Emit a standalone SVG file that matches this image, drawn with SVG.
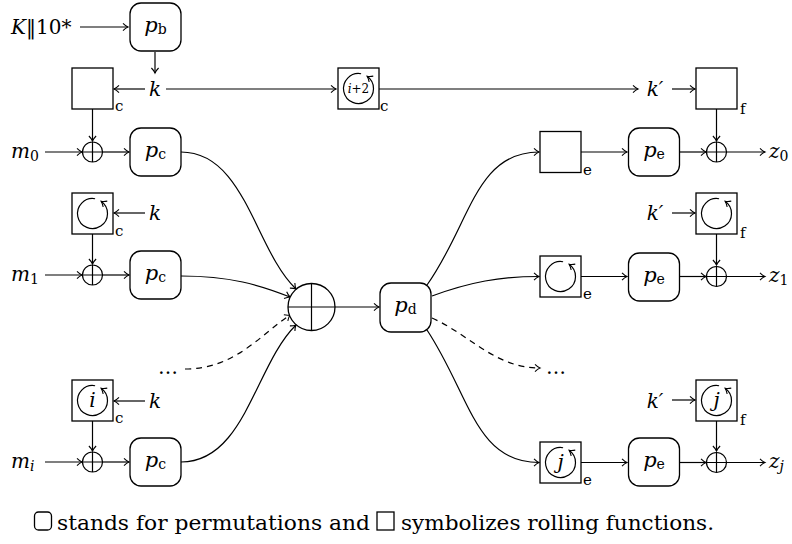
<svg xmlns="http://www.w3.org/2000/svg" width="792" height="544" viewBox="0 0 792 544">
<defs>
<marker id="ah" markerUnits="userSpaceOnUse" markerWidth="10" markerHeight="10" viewBox="-6 -5 8 10" refX="0" refY="0" orient="auto" overflow="visible">
<path d="M-5,-3.6 C-3,-1.6 -1.2,-0.5 0,0 C-1.2,0.5 -3,1.6 -5,3.6" fill="none" stroke="#000" stroke-width="1.1"/>
</marker>
<g id="xor" fill="#fff" stroke="#000" stroke-width="1.2"><circle r="10"/><path d="M-10,0H10M0,-10V10" fill="none"/></g>
<path id="roll" d="M2.6,-14.77 A15,15 0 1 0 8.6,-12.29" fill="none" stroke="#000" stroke-width="1.2" marker-end="url(#ah)"/>
<rect id="sq" width="41" height="41" fill="#fff" stroke="#000" stroke-width="1.3"/>
<rect id="pm" width="51" height="48" rx="11" fill="#fff" stroke="#000" stroke-width="1.3"/>
</defs>

<g id="connectors" fill="none" stroke="#000" stroke-width="1.2" marker-end="url(#ah)">
<path d="M80,27H128"/>
<path d="M155,52V73"/>
<path d="M145,89H114"/>
<path d="M166,89H336"/>
<path d="M379,89H638"/>
<path d="M672,89H695"/>
<path d="M716.5,109V141"/>
<path d="M716.5,234V265"/>
<path d="M716.5,421V451"/>
<path d="M672,213H695"/>
<path d="M672,400H695"/>
<path d="M92.5,109V141"/>
<path d="M92.5,234V264"/>
<path d="M92.5,421V451"/>
<path d="M145,213H114"/>
<path d="M145,401H114"/>
<path d="M45,152H82"/>
<path d="M45,275H82"/>
<path d="M45,462H82"/>
<path d="M103,152H129"/>
<path d="M103,275H129"/>
<path d="M103,462H129"/>
<path d="M181,152 C245,152 255,250 296,289"/>
<path d="M181,276 C230,276 260,285 290,297"/>
<path stroke-dasharray="6 5" d="M185,369 C235,369 260,335 290,315"/>
<path d="M181,462 C245,462 255,365 296,325"/>
<path d="M335,307H379"/>
<path d="M427,285 C470,225 475,152 539,152"/>
<path d="M432,296 C470,282 500,276.5 539,276.5"/>
<path stroke-dasharray="6 5" d="M432,318 C470,335 495,368 540,368"/>
<path d="M427,330 C470,395 475,462.5 539,462.5"/>
<path d="M581,152H627"/>
<path d="M581,276.5H627"/>
<path d="M581,462.5H627"/>
<path d="M680,152H706"/>
<path d="M680,276.5H706"/>
<path d="M680,462.5H706"/>
<path d="M727,152H765"/>
<path d="M727,276.5H765"/>
<path d="M727,462.5H765"/>
</g>

<g id="input-K"><text x="11" y="34" font-family="DejaVu Serif, serif" font-size="20"><tspan font-style="italic">K</tspan>‖10*</text></g>
<g id="pb"><use href="#pm" x="130" y="3"/><text x="155.5" y="32" text-anchor="middle" font-family="DejaVu Serif, serif" font-size="21"><tspan font-style="italic">p</tspan><tspan font-size="14" dy="2">b</tspan></text></g>
<g id="k-top"><text x="155" y="96" text-anchor="middle" font-family="DejaVu Serif, serif" font-size="20" font-style="italic">k</text></g>
<g id="c-top"><use href="#sq" x="72" y="68"/><text x="115" y="111" font-family="DejaVu Serif, serif" font-size="15">c</text></g>
<g id="c-mid"><use href="#sq" x="338" y="68"/><use href="#roll" x="358.5" y="88.5"/><text x="358.5" y="93" text-anchor="middle" font-family="DejaVu Serif, serif" font-size="12"><tspan font-style="italic">i</tspan>+2</text><text x="380" y="111" font-family="DejaVu Serif, serif" font-size="15">c</text></g>
<g id="kp-top"><text x="655" y="96" text-anchor="middle" font-family="DejaVu Serif, serif" font-size="20" font-style="italic">k′</text></g>
<g id="f-top"><use href="#sq" x="696" y="68"/><text x="740" y="114" font-family="DejaVu Serif, serif" font-size="15">f</text></g>

<g id="m0"><text x="11" y="158" font-family="DejaVu Serif, serif" font-size="20"><tspan font-style="italic">m</tspan><tspan font-size="14" dy="3">0</tspan></text></g>
<g id="xor0"><use href="#xor" x="92.5" y="152"/></g>
<g id="pc0"><use href="#pm" x="130" y="128"/><text x="155.5" y="157" text-anchor="middle" font-family="DejaVu Serif, serif" font-size="21"><tspan font-style="italic">p</tspan><tspan font-size="14" dy="2">c</tspan></text></g>

<g id="c1"><use href="#sq" x="72" y="193"/><use href="#roll" x="92.5" y="213.5"/><text x="115" y="236" font-family="DejaVu Serif, serif" font-size="15">c</text></g>
<g id="k1"><text x="155" y="220" text-anchor="middle" font-family="DejaVu Serif, serif" font-size="20" font-style="italic">k</text></g>
<g id="m1"><text x="11" y="281" font-family="DejaVu Serif, serif" font-size="20"><tspan font-style="italic">m</tspan><tspan font-size="14" dy="3">1</tspan></text></g>
<g id="xor1"><use href="#xor" x="92.5" y="275"/></g>
<g id="pc1"><use href="#pm" x="130" y="251"/><text x="155.5" y="280" text-anchor="middle" font-family="DejaVu Serif, serif" font-size="21"><tspan font-style="italic">p</tspan><tspan font-size="14" dy="2">c</tspan></text></g>

<g id="dots-left"><text x="158" y="374" font-family="DejaVu Serif, serif" font-size="20">…</text></g>

<g id="ci"><use href="#sq" x="72" y="380"/><use href="#roll" x="92.5" y="400.5"/><text x="92.5" y="407" text-anchor="middle" font-family="DejaVu Serif, serif" font-size="20" font-style="italic">i</text><text x="115" y="423" font-family="DejaVu Serif, serif" font-size="15">c</text></g>
<g id="ki"><text x="155" y="408" text-anchor="middle" font-family="DejaVu Serif, serif" font-size="20" font-style="italic">k</text></g>
<g id="mi"><text x="11" y="468" font-family="DejaVu Serif, serif" font-size="20"><tspan font-style="italic">m</tspan><tspan font-size="14" font-style="italic" dy="3">i</tspan></text></g>
<g id="xori"><use href="#xor" x="92.5" y="462"/></g>
<g id="pci"><use href="#pm" x="130" y="438"/><text x="155.5" y="467" text-anchor="middle" font-family="DejaVu Serif, serif" font-size="21"><tspan font-style="italic">p</tspan><tspan font-size="14" dy="2">c</tspan></text></g>

<g id="xor-center"><circle cx="311.5" cy="307" r="23.5" fill="#fff" stroke="#000" stroke-width="1.3"/><path d="M288,307H335M311.5,283.5V330.5" fill="none" stroke="#000" stroke-width="1.2"/></g>
<g id="pd"><rect x="380" y="283" width="51" height="49" rx="11" fill="#fff" stroke="#000" stroke-width="1.3"/><text x="405.5" y="312" text-anchor="middle" font-family="DejaVu Serif, serif" font-size="21"><tspan font-style="italic">p</tspan><tspan font-size="14" dy="2">d</tspan></text></g>

<g id="e0"><use href="#sq" x="540" y="131.5"/><text x="583" y="175" font-family="DejaVu Serif, serif" font-size="15">e</text></g>
<g id="pe0"><use href="#pm" x="628.5" y="128"/><text x="654" y="157" text-anchor="middle" font-family="DejaVu Serif, serif" font-size="21"><tspan font-style="italic">p</tspan><tspan font-size="14" dy="2">e</tspan></text></g>
<g id="xorr0"><use href="#xor" x="716.5" y="152"/></g>
<g id="z0"><text x="769" y="158" font-family="DejaVu Serif, serif" font-size="20"><tspan font-style="italic">z</tspan><tspan font-size="14" dy="3">0</tspan></text></g>

<g id="kp1"><text x="655" y="220" text-anchor="middle" font-family="DejaVu Serif, serif" font-size="20" font-style="italic">k′</text></g>
<g id="f1"><use href="#sq" x="696" y="193"/><use href="#roll" x="716.5" y="213.5"/><text x="740" y="238" font-family="DejaVu Serif, serif" font-size="15">f</text></g>
<g id="e1"><use href="#sq" x="540" y="256"/><use href="#roll" x="560.5" y="276.5"/><text x="583" y="299" font-family="DejaVu Serif, serif" font-size="15">e</text></g>
<g id="pe1"><use href="#pm" x="628.5" y="253"/><text x="654" y="282" text-anchor="middle" font-family="DejaVu Serif, serif" font-size="21"><tspan font-style="italic">p</tspan><tspan font-size="14" dy="2">e</tspan></text></g>
<g id="xorr1"><use href="#xor" x="716.5" y="276.5"/></g>
<g id="z1"><text x="769" y="282" font-family="DejaVu Serif, serif" font-size="20"><tspan font-style="italic">z</tspan><tspan font-size="14" dy="3">1</tspan></text></g>

<g id="dots-right"><text x="546" y="374" font-family="DejaVu Serif, serif" font-size="20">…</text></g>

<g id="kpj"><text x="655" y="408" text-anchor="middle" font-family="DejaVu Serif, serif" font-size="20" font-style="italic">k′</text></g>
<g id="fj"><use href="#sq" x="696" y="380"/><use href="#roll" x="716.5" y="400.5"/><text x="716.5" y="407" text-anchor="middle" font-family="DejaVu Serif, serif" font-size="20" font-style="italic">j</text><text x="740" y="425" font-family="DejaVu Serif, serif" font-size="15">f</text></g>
<g id="ej"><use href="#sq" x="540" y="442"/><use href="#roll" x="560.5" y="462.5"/><text x="560.5" y="469" text-anchor="middle" font-family="DejaVu Serif, serif" font-size="20" font-style="italic">j</text><text x="583" y="485" font-family="DejaVu Serif, serif" font-size="15">e</text></g>
<g id="pej"><use href="#pm" x="628.5" y="438"/><text x="654" y="467" text-anchor="middle" font-family="DejaVu Serif, serif" font-size="21"><tspan font-style="italic">p</tspan><tspan font-size="14" dy="2">e</tspan></text></g>
<g id="xorrj"><use href="#xor" x="716.5" y="462.5"/></g>
<g id="zj"><text x="769" y="468" font-family="DejaVu Serif, serif" font-size="20"><tspan font-style="italic">z</tspan><tspan font-size="14" font-style="italic" dy="3">j</tspan></text></g>

<g id="legend">
<rect x="34.5" y="512" width="17" height="18" rx="4" fill="#fff" stroke="#000" stroke-width="1.3"/>
<text x="57" y="530" font-family="DejaVu Serif, serif" font-size="20" textLength="313" lengthAdjust="spacingAndGlyphs">stands for permutations and</text>
<rect x="377" y="512" width="17" height="18" fill="#fff" stroke="#000" stroke-width="1.3"/>
<text x="401" y="530" font-family="DejaVu Serif, serif" font-size="20" textLength="313" lengthAdjust="spacingAndGlyphs">symbolizes rolling functions.</text>
</g>
</svg>
